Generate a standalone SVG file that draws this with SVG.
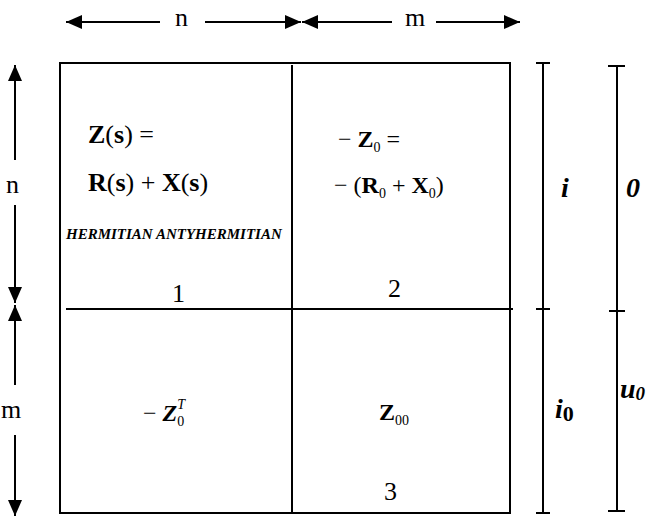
<svg xmlns="http://www.w3.org/2000/svg" width="647" height="519" viewBox="0 0 647 519">
<style>
.ln{stroke:#000;stroke-width:2;fill:none}
.t{font-family:"Liberation Serif","Times New Roman",serif;fill:#000}
.b{font-weight:bold}
.bi{font-weight:bold;font-style:italic}
</style>
<defs>
<marker id="ah" markerWidth="16" markerHeight="14" refX="16" refY="7" orient="auto" markerUnits="userSpaceOnUse">
<path d="M0,0 L16,7 L0,14 Z" fill="#000"/>
</marker>
</defs>
<g id="matrix">
<rect x="60" y="63" width="450" height="450" class="ln"/>
<line x1="292" y1="65" x2="292" y2="513" class="ln"/>
<line x1="66" y1="309" x2="513" y2="309" class="ln"/>
</g>
<g id="connectors">
<line x1="160" y1="22" x2="66" y2="22" class="ln" marker-end="url(#ah)"/>
<line x1="205" y1="22" x2="301" y2="22" class="ln" marker-end="url(#ah)"/>
<line x1="392" y1="22" x2="302" y2="22" class="ln" marker-end="url(#ah)"/>
<line x1="436" y1="22" x2="520" y2="22" class="ln" marker-end="url(#ah)"/>
<line x1="15" y1="160" x2="15" y2="65" class="ln" marker-end="url(#ah)"/>
<line x1="15" y1="205" x2="15" y2="303" class="ln" marker-end="url(#ah)"/>
<line x1="15" y1="385" x2="15" y2="305" class="ln" marker-end="url(#ah)"/>
<line x1="15" y1="435" x2="15" y2="516" class="ln" marker-end="url(#ah)"/>
<path d="M536,63 H550 M543,63 V513 M536,513 H550 M536,309 H550" class="ln"/>
<path d="M608,66 H625 M617,66 V511 M608,511 H625 M609,311 H625" class="ln"/>
</g>
<g id="dimension-labels">
<text x="175" y="26" class="t" font-size="26">n</text>
<text x="405" y="26" class="t" font-size="26">m</text>
<text x="6" y="193" class="t" font-size="26">n</text>
<text x="1" y="418" class="t" font-size="26">m</text>
<text x="561" y="197" class="t bi" font-size="28">i</text>
<text x="626" y="197" class="t bi" font-size="28">0</text>
<text x="555" y="418" class="t bi" font-size="28">i<tspan font-size="22" font-style="normal" dy="3">0</tspan></text>
<text x="620" y="398" class="t bi" font-size="28">u<tspan font-size="19" dy="2">0</tspan></text>
</g>
<g id="block-1">
<text x="88" y="143" class="t" font-size="26"><tspan class="b">Z</tspan>(<tspan class="b">s</tspan>) =</text>
<text x="88" y="191" class="t" font-size="26"><tspan class="b">R</tspan>(<tspan class="b">s</tspan>) + <tspan class="b">X</tspan>(<tspan class="b">s</tspan>)</text>
<text x="66" y="239" class="t bi" font-size="15">HERMITIAN ANTYHERMITIAN</text>
<text x="172" y="302" class="t" font-size="26">1</text>
</g>
<g id="block-2">
<text x="338" y="147" class="t" font-size="24">− <tspan class="b">Z</tspan><tspan font-size="14" dy="5">0</tspan><tspan dy="-5"> =</tspan></text>
<text x="334" y="193" class="t" font-size="24">− (<tspan class="b">R</tspan><tspan font-size="14" dy="5">0</tspan><tspan dy="-5"> + </tspan><tspan class="b">X</tspan><tspan font-size="14" dy="5">0</tspan><tspan dy="-5">)</tspan></text>
<text x="388" y="297" class="t" font-size="26">2</text>
</g>
<g id="block-3">
<text x="143" y="421" class="t" font-size="24">− <tspan class="bi">Z</tspan><tspan font-size="14" dy="5">0</tspan><tspan font-size="14" font-style="italic" dx="-7" dy="-17">T</tspan></text>
<text x="379" y="420" class="t" font-size="24"><tspan class="b">Z</tspan><tspan font-size="14" dy="5">00</tspan></text>
<text x="384" y="500" class="t" font-size="26">3</text>
</g>
</svg>
